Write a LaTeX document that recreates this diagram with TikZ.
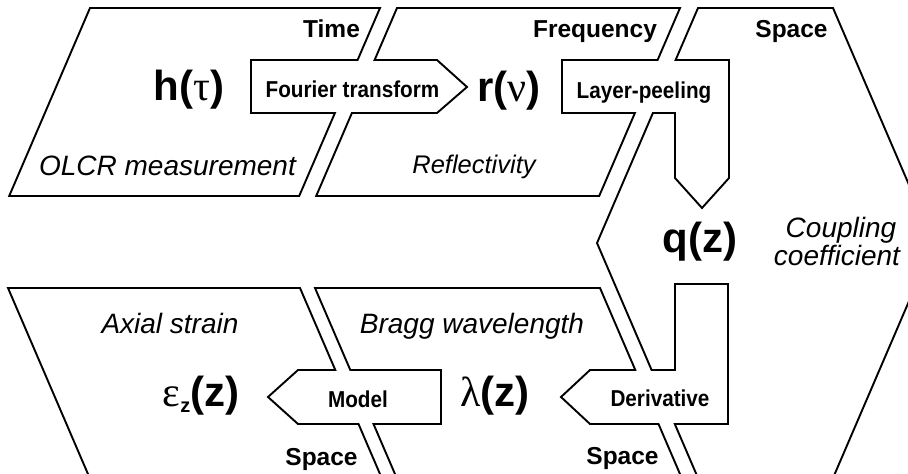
\documentclass[tikz,border=0pt]{standalone}
\usepackage{graphicx}
\usepackage{fontspec}
\setmainfont{Liberation Sans}
\newfontfamily\grk{Liberation Serif}
\newcommand\narrowlbl[1]{\scalebox{0.9}[1]{#1}}
\begin{document}
\begin{tikzpicture}[x=1pt,y=-1pt,
  region/.style={draw=black, line width=1.9pt, line join=miter, fill=white},
  ttl/.style={font=\fontsize{24.5}{28}\selectfont\bfseries, anchor=base, inner sep=0pt},
  op/.style={font=\fontsize{23}{26}\selectfont\bfseries, anchor=base, inner sep=0pt},
  desc/.style={font=\fontsize{28}{32}\selectfont\itshape, anchor=base, inner sep=0pt},
  qty/.style={font=\fontsize{42}{46}\selectfont\bfseries, anchor=base, inner sep=0pt}]
\useasboundingbox (0,0) rectangle (908,474);
\clip (0,0) rectangle (908,474);
\fill[white] (0,0) rectangle (908,474);
% Time region (with left part of the Fourier arrow carved out)
\path[region] (90,8) -- (380,8) -- (357.6,60) -- (251,60) -- (251,113) -- (334.9,113) -- (299.2,196) -- (9.2,196) -- cycle;
% Frequency region
\path[region] (397,8) -- (680,8) -- (657.6,60) -- (562,60) -- (562,113) -- (634.9,113) -- (599.2,196) -- (316.2,196) -- (351.9,113) -- (437,113) -- (467,87) -- (437,60) -- (374.6,60) -- cycle;
% Space region (hexagon)
\path[region] (698,8) -- (833,8) -- (934,243) -- (833,478) -- (698,478) -- (674.8,424) -- (728,424) -- (728,284) -- (675,284) -- (675,370) -- (651.6,370) -- (597,243) -- (652.9,113) -- (675,113) -- (675,178) -- (702,208) -- (729,178) -- (729,60) -- (675.6,60) -- cycle;
% Axial strain region
\path[region] (8,288) -- (300,288) -- (335.3,370) -- (298,370) -- (268,397) -- (298,424) -- (358.5,424) -- (381.7,478) -- (89.7,478) -- cycle;
% Bragg wavelength region
\path[region] (315,288) -- (600,288) -- (635.3,370) -- (590,370) -- (561,397) -- (590,424) -- (658.5,424) -- (681.7,478) -- (396.7,478) -- (373.5,424) -- (441,424) -- (441,370) -- (350.3,370) -- cycle;
% domain titles
\node[ttl] (time) at (331.5,37) {Time};
\node[ttl] (freq) at (595,37) {Frequency};
\node[ttl] (spaceA) at (791.5,37) {Space};
\node[ttl] (spaceB) at (321.5,465) {Space};
\node[ttl] (spaceC) at (622.5,464) {Space};
% operations
\node[op] (fourier) at (352.5,97) {\narrowlbl{Fourier transform}};
\node[op] (peel) at (644,98) {\narrowlbl{Layer-peeling}};
\node[op] (model) at (358,407) {\narrowlbl{Model}};
\node[op] (deriv) at (660,406) {\narrowlbl{Derivative}};
% descriptions
\node[desc] (olcr) at (167.5,175) {OLCR measurement};
\node[desc, font=\fontsize{25.5}{30}\selectfont\itshape] (refl) at (474,173) {Reflectivity};
\node[desc] (axial) at (170,333) {Axial strain};
\node[desc] (bragg) at (472,333) {Bragg wavelength};
\node[desc] (coupA) at (841,237) {Coupling};
\node[desc] (coupB) at (837,265) {coefficient};
% quantities
\node[qty] (h) at (189,100) {h({\grk\mdseries τ})};
\node[qty] (r) at (509,101) {r({\grk\mdseries ν})};
\node[qty] (q) at (700,252) {q(z)};
\node[qty] (lam) at (495,406) {{\grk\mdseries λ}(z)};
\node[qty] (eps) at (201,406) {{\grk\mdseries ε}\raisebox{-6pt}{\fontsize{20}{22}\selectfont z}(z)};
\end{tikzpicture}
\end{document}
